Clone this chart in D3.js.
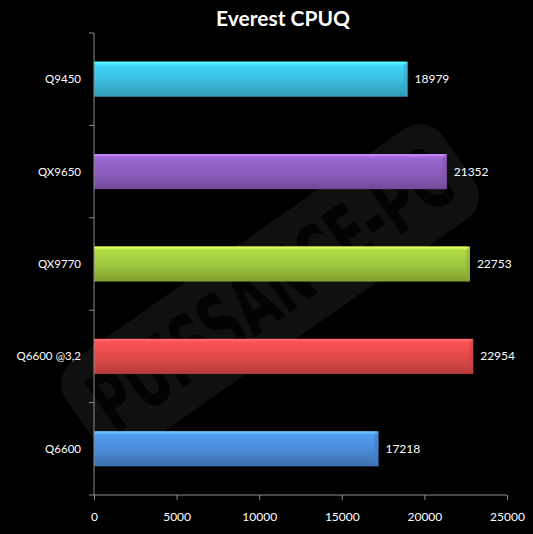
<!DOCTYPE html>
<html><head><meta charset="utf-8">
<script src="https://cdn.jsdelivr.net/npm/d3@7"></script>
<style>html,body{margin:0;padding:0;background:#000;overflow:hidden}</style>
</head><body>
<script>
const categories = ["Q9450","QX9650","QX9770","Q6600 @3,2","Q6600"];
const values = [18979,21352,22753,22954,17218];
const colors = ["#3bbde0","#8c5cbc","#9dc63e","#e0494a","#4a8bd8"];
const xTicks = [0,5000,10000,15000,20000,25000];
const title = "Everest CPUQ";

const W=533,H=534;
const svg=d3.select("body").append("svg").attr("width",W).attr("height",H).style("background","#000");
const font="Lato, 'Open Sans', sans-serif";
const defs=svg.append("defs");

// watermark
const wm=svg.append("g").attr("transform","translate(270,290) rotate(-35)");
wm.append("rect").attr("x",-230).attr("y",-55).attr("width",460).attr("height",110).attr("rx",28)
  .attr("fill","#101010");
wm.append("text").attr("text-anchor","middle").attr("y",30).attr("font-family","'DejaVu Sans', sans-serif")
  .attr("font-weight","bold").attr("font-size",84).attr("fill","#030303").attr("textLength",420)
  .attr("lengthAdjust","spacingAndGlyphs").text("PUISSANCE-PC");

const x=d3.scaleLinear().domain([0,25000]).range([94,507]);
const y=d3.scaleBand().domain(categories).range([33,495]).paddingInner(0.62).paddingOuter(0.31);

categories.forEach((c,i)=>{
  const col=d3.color(colors[i]);
  const g=defs.append("linearGradient").attr("id","g"+i).attr("x1",0).attr("x2",0).attr("y1",0).attr("y2",1);
  g.append("stop").attr("offset",0).attr("stop-color",col.brighter(0.9));
  g.append("stop").attr("offset",0.12).attr("stop-color",col.brighter(0.3));
  g.append("stop").attr("offset",0.55).attr("stop-color",col);
  g.append("stop").attr("offset",1).attr("stop-color",col.darker(0.6));
});

const bars=svg.append("g");
categories.forEach((c,i)=>{
  const x0=x(0),x1=x(values[i]),y0=y(c),h=y.bandwidth();
  bars.append("rect").attr("x",x0).attr("y",y0).attr("width",x1-x0).attr("height",h).attr("fill",`url(#g${i})`);
  const col=d3.color(colors[i]);
  bars.append("path").attr("d",`M${x1-4},${y0+4}L${x1},${y0}L${x1},${y0+h}L${x1-4},${y0+h-4}Z`)
    .attr("fill",col.darker(0.3)).attr("opacity",0.6);
  bars.append("rect").attr("x",x0).attr("y",y0).attr("width",x1-x0-3).attr("height",2).attr("fill",col.brighter(1.2)).attr("opacity",0.5);
  svg.append("text").attr("x",x1+7).attr("y",y0+h/2+4).attr("fill","#fff").attr("font-family",font)
    .attr("font-size",12).text(values[i]);
});

const axC="#8c8c8c";
const xa=svg.append("g").attr("transform","translate(0,495)").call(d3.axisBottom(x).tickValues(xTicks).tickSize(5).tickSizeOuter(0).tickPadding(12).tickFormat(d=>d));
const ya=svg.append("g").attr("transform","translate(94,0)");
ya.append("line").attr("y1",33).attr("y2",495).attr("stroke",axC);
const bounds=d3.range(categories.length+1).map(k=>33+k*(462/categories.length));
ya.selectAll("line.t").data(bounds).enter().append("line").attr("class","t").attr("x1",-5).attr("x2",0)
  .attr("y1",d=>d).attr("y2",d=>d).attr("stroke",axC);
ya.selectAll("text").data(categories).enter().append("text").attr("x",-13).attr("y",d=>y(d)+y.bandwidth()/2+4)
  .attr("text-anchor","end").attr("fill","#fff").attr("font-family",font).attr("font-size",11.5).text(d=>d);
xa.selectAll("path,line").attr("stroke",axC);
xa.select(".domain").attr("d","M94,0H507");
xa.selectAll("text").attr("fill","#fff").attr("font-family",font).attr("font-size",12);

svg.append("text").attr("x",283).attr("y",26).attr("text-anchor","middle").attr("fill","#fff")
  .attr("font-family",font).attr("font-weight","bold").attr("font-size",21).text(title);
</script>
</body></html>
